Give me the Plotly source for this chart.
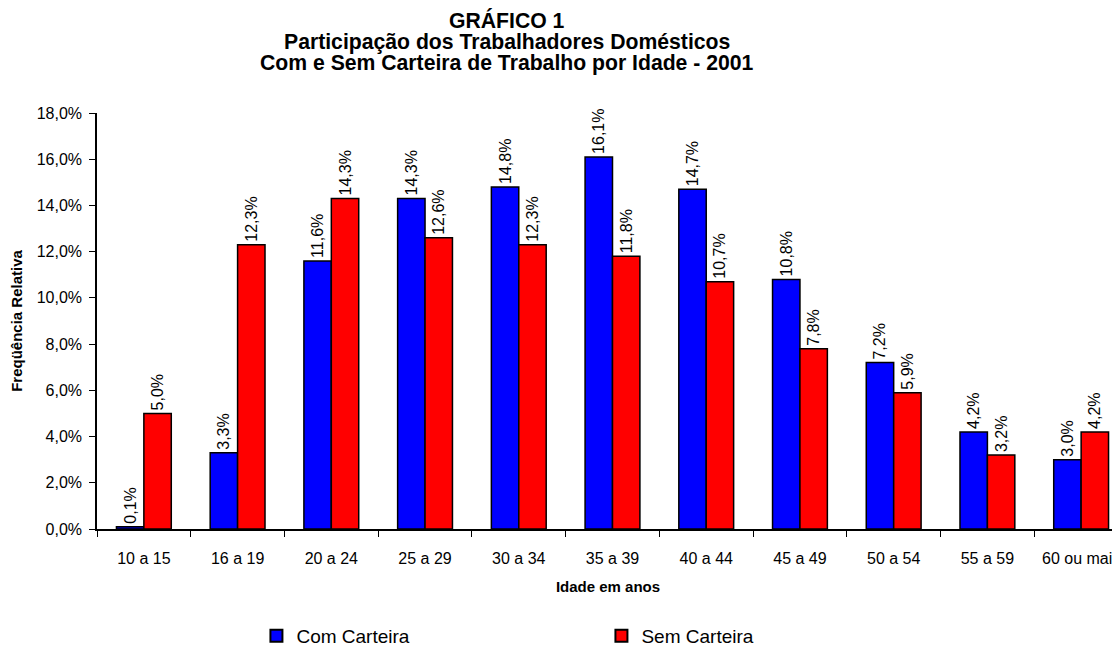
import plotly.graph_objects as go

categorias = ['10 a 15', '16 a 19', '20 a 24', '25 a 29', '30 a 34', '35 a 39',
              '40 a 44', '45 a 49', '50 a 54', '55 a 59', '60 ou mais']
com_carteira = [0.1, 3.3, 11.6, 14.3, 14.8, 16.1, 14.7, 10.8, 7.2, 4.2, 3.0]
sem_carteira = [5.0, 12.3, 14.3, 12.6, 12.3, 11.8, 10.7, 7.8, 5.9, 3.2, 4.2]
titulo = ['GRÁFICO 1',
          'Participação dos Trabalhadores Domésticos',
          'Com e Sem Carteira de Trabalho por Idade - 2001']


def rotulo(vals):
    return [f'{v:.1f}%'.replace('.', ',') for v in vals]


fig = go.Figure()

fig.add_trace(go.Bar(x=categorias, y=com_carteira, name='Com Carteira',
                     marker=dict(color='#0000FF', line=dict(color='black', width=1.5)),
                     text=rotulo(com_carteira), textposition='outside', textangle=-90,
                     constraintext='none', cliponaxis=False,
                     textfont=dict(family='Arial', size=16, color='black')))
fig.add_trace(go.Bar(x=categorias, y=sem_carteira, name='Sem Carteira',
                     marker=dict(color='#FF0000', line=dict(color='black', width=1.5)),
                     text=rotulo(sem_carteira), textposition='outside', textangle=-90,
                     constraintext='none', cliponaxis=False,
                     textfont=dict(family='Arial', size=16, color='black')))

# title lines as separate annotations (tighter line spacing than plotly's title)
# page adds an 8px body margin, so layout is shifted 8px up/left
for i, linha in enumerate(titulo):
    fig.add_annotation(text=f'<b>{linha}</b>', xref='paper', yref='paper',
                       x=(498 - 87) / 1025, xanchor='center',
                       y=1 + (105 - 12 - 21.5 * i) / 416, yanchor='middle',
                       showarrow=False,
                       font=dict(family='Arial', size=21.2, color='black'))

fig.update_layout(
    width=1120, height=656,
    separators=',.',
    paper_bgcolor='white', plot_bgcolor='white',
    font=dict(family='Arial', size=16, color='black'),
    margin=dict(l=87, r=8, t=105, b=135),
    barmode='group', bargap=0.415, bargroupgap=0,
    xaxis=dict(range=[-0.5, 10.404], showline=True, linecolor='black', linewidth=1.5,
               ticks='outside', tickson='boundaries', ticklen=6, tickcolor='black',
               ticklabelstandoff=14,
               title=dict(text='<b>Idade em anos</b>', font=dict(size=15), standoff=16)),
    yaxis=dict(range=[0, 18], dtick=2, tickformat='.1f', ticksuffix='%',
               showline=True, linecolor='black', linewidth=1.5, showgrid=False,
               zeroline=False, ticklabelstandoff=4,
               ticks='outside', ticklen=6, tickcolor='black',
               title=dict(text='<b>Freqüência Relativa</b>', font=dict(size=15), standoff=10)),
    legend=dict(orientation='h', x=0.156, xanchor='left', y=-0.2115, yanchor='top',
                font=dict(family='Arial', size=19), entrywidth=300,
                itemsizing='constant'),
)

fig.write_html('out.html')
